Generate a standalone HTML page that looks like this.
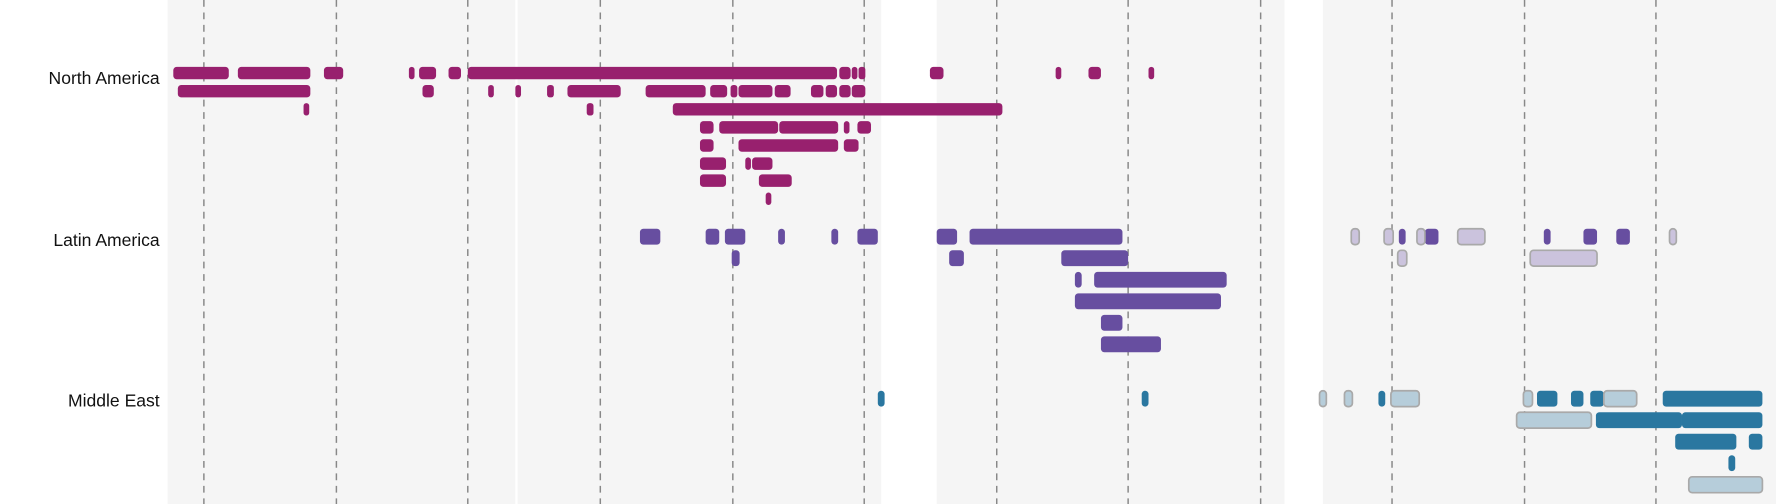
<!DOCTYPE html>
<html><head><meta charset="utf-8"><style>
html,body{margin:0;padding:0;background:#fff;width:1776px;height:504px;overflow:hidden}
svg{display:block}
text{font-family:"Liberation Sans",sans-serif;font-size:15.5px;fill:#111}
.na{fill:#98206e}.la{fill:#674ea0}.me{fill:#2a77a0}
.lla{fill:#cbc3dd;stroke:#a9a9a9;stroke-width:1.5}
.lme{fill:#b6cdda;stroke:#a9a9a9;stroke-width:1.5}
</style></head><body>
<svg width="1776" height="504" viewBox="0 0 1568 445" preserveAspectRatio="none" xmlns="http://www.w3.org/2000/svg">
<rect x="148" y="0" width="630" height="445" fill="#f5f5f5"/>
<rect x="455" y="0" width="2" height="445" fill="#fff"/>
<rect x="827" y="0" width="307" height="445" fill="#f5f5f5"/>
<rect x="1168" y="0" width="400" height="445" fill="#f5f5f5"/>
<g stroke="#888" stroke-width="1.3" stroke-dasharray="6,5">
<line x1="180" y1="0" x2="180" y2="445"/><line x1="297" y1="0" x2="297" y2="445"/>
<line x1="413" y1="0" x2="413" y2="445"/><line x1="530" y1="0" x2="530" y2="445"/>
<line x1="647" y1="0" x2="647" y2="445"/><line x1="763" y1="0" x2="763" y2="445"/>
<line x1="880" y1="0" x2="880" y2="445"/><line x1="996" y1="0" x2="996" y2="445"/>
<line x1="1113" y1="0" x2="1113" y2="445"/><line x1="1229" y1="0" x2="1229" y2="445"/>
<line x1="1346" y1="0" x2="1346" y2="445"/><line x1="1462" y1="0" x2="1462" y2="445"/>
</g>
<text x="141" y="74" text-anchor="end">North America</text>
<text x="141" y="217" text-anchor="end">Latin America</text>
<text x="141" y="359" text-anchor="end">Middle East</text>
<g class="na">
<rect x="153" y="59" width="49" height="11" rx="3"/><rect x="210" y="59" width="64" height="11" rx="3"/><rect x="286" y="59" width="17" height="11" rx="3"/><rect x="361" y="59" width="5" height="11" rx="2.5"/><rect x="370" y="59" width="15" height="11" rx="3"/><rect x="396" y="59" width="11" height="11" rx="3"/><rect x="413" y="59" width="326" height="11" rx="3"/><rect x="741" y="59" width="10" height="11" rx="3"/><rect x="752" y="59" width="5" height="11" rx="2.5"/><rect x="758" y="59" width="6" height="11" rx="2.5"/><rect x="821" y="59" width="12" height="11" rx="3"/><rect x="932" y="59" width="5" height="11" rx="2.5"/><rect x="961" y="59" width="11" height="11" rx="3"/><rect x="1014" y="59" width="5" height="11" rx="2.5"/>
<rect x="157" y="75" width="117" height="11" rx="3"/><rect x="373" y="75" width="10" height="11" rx="3"/><rect x="431" y="75" width="5" height="11" rx="2.5"/><rect x="455" y="75" width="5" height="11" rx="2.5"/><rect x="483" y="75" width="6" height="11" rx="2.5"/><rect x="501" y="75" width="47" height="11" rx="3"/><rect x="570" y="75" width="53" height="11" rx="3"/><rect x="627" y="75" width="15" height="11" rx="3"/><rect x="645" y="75" width="6" height="11" rx="2.5"/><rect x="652" y="75" width="30" height="11" rx="3"/><rect x="684" y="75" width="14" height="11" rx="3"/><rect x="716" y="75" width="11" height="11" rx="3"/><rect x="729" y="75" width="10" height="11" rx="3"/><rect x="741" y="75" width="10" height="11" rx="3"/><rect x="752" y="75" width="12" height="11" rx="3"/>
<rect x="268" y="91" width="5" height="11" rx="2.5"/><rect x="518" y="91" width="6" height="11" rx="2.5"/><rect x="594" y="91" width="291" height="11" rx="3"/>
<rect x="618" y="107" width="12" height="11" rx="3"/><rect x="635" y="107" width="52" height="11" rx="3"/><rect x="688" y="107" width="52" height="11" rx="3"/><rect x="745" y="107" width="5" height="11" rx="2.5"/><rect x="757" y="107" width="12" height="11" rx="3"/>
<rect x="618" y="123" width="12" height="11" rx="3"/><rect x="652" y="123" width="88" height="11" rx="3"/><rect x="745" y="123" width="13" height="11" rx="3"/>
<rect x="618" y="139" width="23" height="11" rx="3"/><rect x="658" y="139" width="5" height="11" rx="2.5"/><rect x="664" y="139" width="18" height="11" rx="3"/>
<rect x="618" y="154" width="23" height="11" rx="3"/><rect x="670" y="154" width="29" height="11" rx="3"/>
<rect x="676" y="170" width="5" height="11" rx="2.5"/>
</g>
<g class="la">
<rect x="565" y="202" width="18" height="14" rx="3"/><rect x="623" y="202" width="12" height="14" rx="3"/><rect x="640" y="202" width="18" height="14" rx="3"/><rect x="687" y="202" width="6" height="14" rx="3"/><rect x="734" y="202" width="6" height="14" rx="3"/><rect x="757" y="202" width="18" height="14" rx="3"/><rect x="827" y="202" width="18" height="14" rx="3"/><rect x="856" y="202" width="135" height="14" rx="3"/><rect x="1235" y="202" width="6" height="14" rx="3"/><rect x="1258" y="202" width="12" height="14" rx="3"/><rect x="1363" y="202" width="6" height="14" rx="3"/><rect x="1398" y="202" width="12" height="14" rx="3"/><rect x="1427" y="202" width="12" height="14" rx="3"/>
<rect x="646" y="221" width="7" height="14" rx="3"/><rect x="838" y="221" width="13" height="14" rx="3"/><rect x="937" y="221" width="59" height="14" rx="3"/>
<rect x="949" y="240" width="6" height="14" rx="3"/><rect x="966" y="240" width="117" height="14" rx="3"/>
<rect x="949" y="259" width="129" height="14" rx="3"/>
<rect x="972" y="278" width="19" height="14" rx="3"/>
<rect x="972" y="297" width="53" height="14" rx="3"/>
</g>
<g class="lla">
<rect x="1193" y="202" width="7" height="14" rx="3"/><rect x="1222" y="202" width="8" height="14" rx="3"/><rect x="1251" y="202" width="7" height="14" rx="3"/><rect x="1287" y="202" width="24" height="14" rx="3"/><rect x="1474" y="202" width="6" height="14" rx="3"/>
<rect x="1234" y="221" width="8" height="14" rx="3"/><rect x="1351" y="221" width="59" height="14" rx="3"/>
</g>
<g class="me">
<rect x="775" y="345" width="6" height="14" rx="3"/><rect x="1008" y="345" width="6" height="14" rx="3"/><rect x="1217" y="345" width="6" height="14" rx="3"/><rect x="1357" y="345" width="18" height="14" rx="3"/><rect x="1387" y="345" width="11" height="14" rx="3"/><rect x="1404" y="345" width="12" height="14" rx="3"/><rect x="1468" y="345" width="88" height="14" rx="3"/>
<rect x="1409" y="364" width="76" height="14" rx="3"/><rect x="1485" y="364" width="71" height="14" rx="3"/>
<rect x="1479" y="383" width="54" height="14" rx="3"/><rect x="1544" y="383" width="12" height="14" rx="3"/>
<rect x="1526" y="402" width="6" height="14" rx="3"/>
</g>
<g class="lme">
<rect x="1165" y="345" width="6" height="14" rx="3"/><rect x="1187" y="345" width="7" height="14" rx="3"/><rect x="1228" y="345" width="25" height="14" rx="3"/><rect x="1345" y="345" width="8" height="14" rx="3"/><rect x="1416" y="345" width="29" height="14" rx="3"/>
<rect x="1339" y="364" width="66" height="14" rx="3"/>
<rect x="1491" y="421" width="65" height="14" rx="3"/>
</g>
</svg>
</body></html>
